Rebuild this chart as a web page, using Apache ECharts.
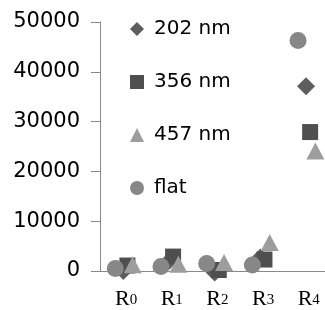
<!DOCTYPE html>
<html>
<head>
<meta charset="utf-8">
<style>html,body{margin:0;padding:0;background:#fff}#c{width:325px;height:310px}</style>
<script src="https://cdn.jsdelivr.net/npm/echarts@6/dist/echarts.min.js"></script>
</head>
<body>
<div id="c"></div>
<script>
var categories = ['0', '1', '2', '3', '4'];
var seriesNames = ['202 nm', '356 nm', '457 nm', 'flat'];
var v202 = [0, 2000, -300, 2700, 37100];
var v356 = [1100, 2900, 200, 2300, 27900];
var v457 = [1250, 1350, 1700, 5700, 24100];
var vFlat = [500, 900, 1500, 1200, 46300];
var yTicks = [0, 10000, 20000, 30000, 40000, 50000];

var styles = [
  {symbol: 'diamond', size: 18, color: '#5e5e5e', off: -0.06},
  {symbol: 'rect', size: 16, color: '#4f4f4f', off: 0.03},
  {symbol: 'triangle', size: [18, 17], color: '#9d9d9d', off: 0.145},
  {symbol: 'circle', size: 17, color: '#878787', off: -0.235}
];
var values = [v202, v356, v457, vFlat];

var series = values.map(function (vals, s) {
  var st = styles[s];
  return {
    name: seriesNames[s],
    type: 'scatter',
    clip: false,
    symbol: st.symbol,
    symbolSize: st.size,
    itemStyle: {color: st.color, opacity: 1},
    data: vals.map(function (v, i) { return [i + st.off, v]; })
  };
});

var chart = echarts.init(document.getElementById('c'));
chart.setOption({
  animation: false,
  backgroundColor: '#fff',
  grid: {left: 100, right: 0, top: 22, bottom: 37},
  legend: {
    orient: 'vertical',
    left: 125, top: 14,
    itemWidth: 14, itemHeight: 14,
    itemGap: 33,
    textStyle: {fontFamily: 'DejaVu Sans', fontSize: 20, color: '#000', lineHeight: 20, padding: [0, 0, 0, 5]},
    data: seriesNames.map(function (n, s) {
      return {name: n, icon: styles[s].symbol, itemStyle: {color: styles[s].color}};
    })
  },
  xAxis: {
    type: 'value',
    min: -0.57, max: 4.355,
    splitLine: {show: false},
    axisTick: {show: false},
    axisLine: {onZero: false, lineStyle: {color: '#888', width: 1}},
    axisLabel: {
      customValues: [0, 1, 2, 3, 4],
      margin: 17,
      formatter: function (v) { return '{r|R}{s|' + categories[Math.round(v)] + '}'; },
      rich: {
        r: {fontFamily: 'Liberation Serif', fontSize: 22, color: '#000', verticalAlign: 'bottom', lineHeight: 22},
        s: {fontFamily: 'Liberation Serif', fontSize: 15, color: '#000', verticalAlign: 'bottom', lineHeight: 22, padding: [0, 0, 2, 0]}
      }
    }
  },
  yAxis: {
    type: 'value',
    min: yTicks[0], max: yTicks[yTicks.length - 1], interval: 10000,
    splitLine: {show: false},
    axisLine: {show: true, onZero: false, lineStyle: {color: '#888', width: 1}},
    axisTick: {show: true, inside: false, length: 9, lineStyle: {color: '#888', width: 1}},
    axisLabel: {fontFamily: 'DejaVu Sans', fontSize: 21, color: '#000', margin: 20,
      formatter: function (v) { return String(v); }}
  },
  series: series
});
</script>
</body>
</html>
